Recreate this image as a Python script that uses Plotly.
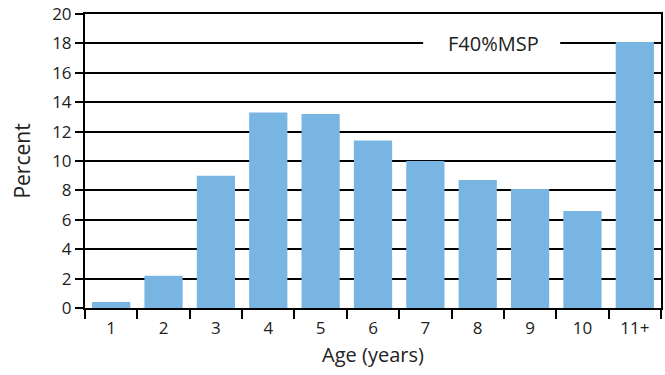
import plotly.graph_objects as go

ages = ["1", "2", "3", "4", "5", "6", "7", "8", "9", "10", "11+"]
percent = [0.4, 2.2, 9.0, 13.3, 13.2, 11.4, 10.0, 8.7, 8.1, 6.6, 18.1]
y_ticks = [0, 2, 4, 6, 8, 10, 12, 14, 16, 18, 20]
label_text = "F40%MSP"

FONT = "'Open Sans', Lato, sans-serif"

fig = go.Figure(go.Bar(x=ages, y=percent, marker=dict(color="#78B5E3", line=dict(width=0))))

fig.update_layout(
    width=665, height=375,
    margin=dict(l=85, r=4, t=14, b=67),
    paper_bgcolor="white", plot_bgcolor="white",
    bargap=0.27,
    showlegend=False,
    font=dict(family=FONT, color="#222", size=16),
)
fig.update_xaxes(
    type="category", tickson="boundaries", ticks="outside", ticklen=9, tickwidth=1.5,
    tickcolor="black", showline=True, linecolor="black", linewidth=2, mirror=True,
    showgrid=False, tickfont=dict(size=17), automargin=False, ticklabelstandoff=4,
    title=dict(text="Age (years)", font=dict(size=20), standoff=10),
)
fig.update_yaxes(
    range=[0, 20], tickvals=y_ticks, ticks="outside", ticklen=8, tickwidth=1.5,
    tickcolor="black", showline=True, linecolor="black", linewidth=2, mirror=True,
    showgrid=True, gridcolor="black", gridwidth=1.5, zeroline=False,
    tickfont=dict(size=17), automargin=False,
    title=dict(text="Percent", font=dict(size=21), standoff=16),
)
# white gap around the label on the gridline
fig.add_shape(type="rect", xref="paper", yref="y", x0=0.587, x1=0.825, y0=17.7, y1=18.3,
              fillcolor="white", line=dict(width=0), layer="above")
fig.add_annotation(
    x=0.709, xref="paper", y=18, yref="y", text=label_text, showarrow=False,
    font=dict(size=20, family=FONT, color="#222"), bgcolor="white", borderpad=2,
    xanchor="center", yanchor="middle",
)
fig.write_html(
    "out.html",
    config={"responsive": False, "displayModeBar": False},
    post_script="document.body.style.margin='0';document.body.style.overflow='hidden';",
)
